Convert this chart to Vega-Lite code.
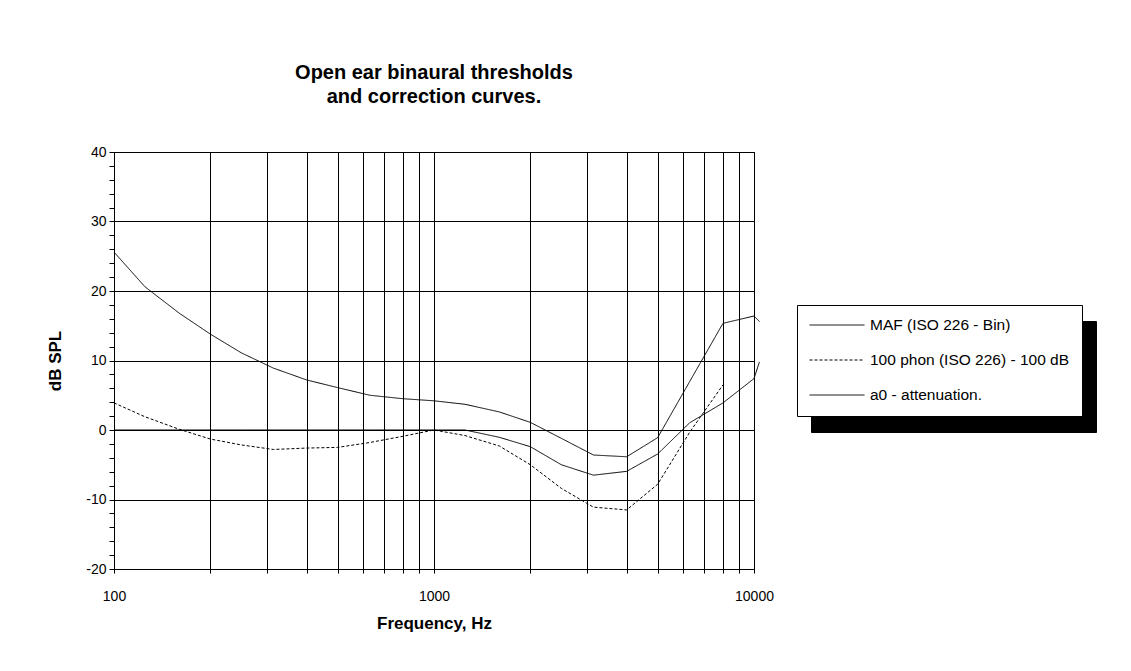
{
  "$schema": "https://vega.github.io/schema/vega-lite/v6.json",
  "width": 640,
  "height": 417,
  "autosize": {"type": "none"},
  "padding": {"left": 114, "top": 152, "right": 377, "bottom": 102},
  "background": "white",
  "title": {
    "text": ["Open ear binaural thresholds", "and correction curves."],
    "fontSize": 20,
    "font": "Liberation Sans",
    "fontWeight": "bold",
    "color": "black",
    "anchor": "middle",
    "frame": "group",
    "offset": 38,
    "lineHeight": 24
  },
  "data": {
    "values": [
      {"s": "MAF (ISO 226 - Bin)", "f": 100, "v": 25.6},
      {"s": "MAF (ISO 226 - Bin)", "f": 125, "v": 20.6},
      {"s": "MAF (ISO 226 - Bin)", "f": 160, "v": 16.8},
      {"s": "MAF (ISO 226 - Bin)", "f": 200, "v": 13.8},
      {"s": "MAF (ISO 226 - Bin)", "f": 250, "v": 11.1},
      {"s": "MAF (ISO 226 - Bin)", "f": 315, "v": 8.9},
      {"s": "MAF (ISO 226 - Bin)", "f": 400, "v": 7.2},
      {"s": "MAF (ISO 226 - Bin)", "f": 500, "v": 6.1},
      {"s": "MAF (ISO 226 - Bin)", "f": 630, "v": 5.0},
      {"s": "MAF (ISO 226 - Bin)", "f": 800, "v": 4.5},
      {"s": "MAF (ISO 226 - Bin)", "f": 1000, "v": 4.2},
      {"s": "MAF (ISO 226 - Bin)", "f": 1250, "v": 3.7},
      {"s": "MAF (ISO 226 - Bin)", "f": 1600, "v": 2.6},
      {"s": "MAF (ISO 226 - Bin)", "f": 2000, "v": 1.1},
      {"s": "MAF (ISO 226 - Bin)", "f": 2500, "v": -1.2},
      {"s": "MAF (ISO 226 - Bin)", "f": 3150, "v": -3.6},
      {"s": "MAF (ISO 226 - Bin)", "f": 4000, "v": -3.85},
      {"s": "MAF (ISO 226 - Bin)", "f": 5000, "v": -1.1},
      {"s": "MAF (ISO 226 - Bin)", "f": 6300, "v": 7.0},
      {"s": "MAF (ISO 226 - Bin)", "f": 8000, "v": 15.35},
      {"s": "MAF (ISO 226 - Bin)", "f": 10000, "v": 16.4},
      {"s": "MAF (ISO 226 - Bin)", "f": 10400, "v": 15.6},
      {"s": "100 phon (ISO 226) - 100 dB", "f": 100, "v": 3.9},
      {"s": "100 phon (ISO 226) - 100 dB", "f": 125, "v": 1.9},
      {"s": "100 phon (ISO 226) - 100 dB", "f": 160, "v": 0.1},
      {"s": "100 phon (ISO 226) - 100 dB", "f": 200, "v": -1.3},
      {"s": "100 phon (ISO 226) - 100 dB", "f": 250, "v": -2.15},
      {"s": "100 phon (ISO 226) - 100 dB", "f": 315, "v": -2.8},
      {"s": "100 phon (ISO 226) - 100 dB", "f": 400, "v": -2.6},
      {"s": "100 phon (ISO 226) - 100 dB", "f": 500, "v": -2.5},
      {"s": "100 phon (ISO 226) - 100 dB", "f": 630, "v": -1.8},
      {"s": "100 phon (ISO 226) - 100 dB", "f": 800, "v": -0.9},
      {"s": "100 phon (ISO 226) - 100 dB", "f": 1000, "v": 0},
      {"s": "100 phon (ISO 226) - 100 dB", "f": 1250, "v": -0.8},
      {"s": "100 phon (ISO 226) - 100 dB", "f": 1600, "v": -2.3},
      {"s": "100 phon (ISO 226) - 100 dB", "f": 2000, "v": -5.0},
      {"s": "100 phon (ISO 226) - 100 dB", "f": 2500, "v": -8.4},
      {"s": "100 phon (ISO 226) - 100 dB", "f": 3150, "v": -11.1},
      {"s": "100 phon (ISO 226) - 100 dB", "f": 4000, "v": -11.5},
      {"s": "100 phon (ISO 226) - 100 dB", "f": 5000, "v": -7.8},
      {"s": "100 phon (ISO 226) - 100 dB", "f": 6300, "v": -0.3},
      {"s": "100 phon (ISO 226) - 100 dB", "f": 8000, "v": 6.5},
      {"s": "a0 - attenuation.", "f": 100, "v": 0},
      {"s": "a0 - attenuation.", "f": 125, "v": 0},
      {"s": "a0 - attenuation.", "f": 160, "v": 0},
      {"s": "a0 - attenuation.", "f": 200, "v": 0},
      {"s": "a0 - attenuation.", "f": 250, "v": 0},
      {"s": "a0 - attenuation.", "f": 315, "v": 0},
      {"s": "a0 - attenuation.", "f": 400, "v": 0},
      {"s": "a0 - attenuation.", "f": 500, "v": 0},
      {"s": "a0 - attenuation.", "f": 630, "v": 0},
      {"s": "a0 - attenuation.", "f": 800, "v": 0},
      {"s": "a0 - attenuation.", "f": 1000, "v": 0},
      {"s": "a0 - attenuation.", "f": 1250, "v": 0},
      {"s": "a0 - attenuation.", "f": 1600, "v": -1.05},
      {"s": "a0 - attenuation.", "f": 2000, "v": -2.4},
      {"s": "a0 - attenuation.", "f": 2500, "v": -5.0},
      {"s": "a0 - attenuation.", "f": 3150, "v": -6.5},
      {"s": "a0 - attenuation.", "f": 4000, "v": -5.95},
      {"s": "a0 - attenuation.", "f": 5000, "v": -3.45},
      {"s": "a0 - attenuation.", "f": 6300, "v": 1.05},
      {"s": "a0 - attenuation.", "f": 8000, "v": 3.9},
      {"s": "a0 - attenuation.", "f": 10000, "v": 7.4},
      {"s": "a0 - attenuation.", "f": 10400, "v": 9.8}
    ]
  },
  "mark": {"type": "line", "strokeWidth": 1, "color": "black", "clip": false},
  "encoding": {
    "x": {
      "field": "f",
      "type": "quantitative",
      "scale": {"type": "log", "domain": [100, 10000], "nice": false},
      "axis": {
        "values": [100, 200, 300, 400, 500, 600, 700, 800, 900, 1000, 2000, 3000, 4000, 5000, 6000, 7000, 8000, 9000, 10000],
        "labelExpr": "datum.value == 100 || datum.value == 1000 || datum.value == 10000 ? '' + datum.value : ''",
        "grid": true,
        "gridColor": "black",
        "gridOpacity": 1,
        "gridWidth": 1,
        "tickSize": 4,
        "tickColor": "black",
        "domainColor": "black",
        "labelFont": "Liberation Sans",
        "labelFontSize": 14,
        "labelColor": "black",
        "labelPadding": 16,
        "labelFlush": false,
        "labelOverlap": false,
        "title": "Frequency, Hz",
        "titleFont": "Liberation Sans",
        "titleFontSize": 17,
        "titleFontWeight": "bold",
        "titleColor": "black",
        "titlePadding": 12
      }
    },
    "y": {
      "field": "v",
      "type": "quantitative",
      "scale": {"domain": [-20, 40], "nice": false, "zero": false},
      "axis": {
        "values": [-20, -18, -16, -14, -12, -10, -8, -6, -4, -2, 0, 2, 4, 6, 8, 10, 12, 14, 16, 18, 20, 22, 24, 26, 28, 30, 32, 34, 36, 38, 40],
        "labelExpr": "datum.value % 10 === 0 ? '' + datum.value : ''",
        "grid": true,
        "gridColor": "black",
        "gridWidth": 1,
        "gridOpacity": {"condition": {"test": "datum.value % 10 === 0", "value": 1}, "value": 0},
        "tickSize": 5,
        "tickColor": "black",
        "domainColor": "black",
        "labelFont": "Liberation Sans",
        "labelFontSize": 14,
        "labelColor": "black",
        "labelPadding": 3,
        "labelFlush": false,
        "labelOverlap": false,
        "title": "dB SPL",
        "titleFont": "Liberation Sans",
        "titleFontSize": 17,
        "titleFontWeight": "bold",
        "titleColor": "black",
        "titlePadding": 21
      }
    },
    "stroke": {
      "field": "s",
      "type": "nominal",
      "scale": {
        "domain": ["MAF (ISO 226 - Bin)", "100 phon (ISO 226) - 100 dB", "a0 - attenuation."],
        "range": ["black", "black", "black"]
      },
      "legend": {
        "orient": "none", "legendX": 683, "legendY": 153, "title": null,
        "symbolType": "stroke", "symbolSize": 3025, "symbolStrokeWidth": 1,
        "labelFont": "Liberation Sans", "labelFontSize": 15.5, "labelColor": "black", "labelOffset": 5, "labelLimit": 400,
        "padding": 12, "clipHeight": 16, "rowPadding": 18,
        "strokeColor": "black", "fillColor": "white", "zindex": 2
      }
    },
    "strokeDash": {
      "field": "s",
      "type": "nominal",
      "scale": {
        "domain": ["MAF (ISO 226 - Bin)", "100 phon (ISO 226) - 100 dB", "a0 - attenuation."],
        "range": [[1, 0], [3, 2], [1, 0]]
      },
      "legend": {
        "orient": "none", "legendX": 683, "legendY": 153, "title": null,
        "symbolType": "stroke", "symbolSize": 3025, "symbolStrokeWidth": 1,
        "labelFont": "Liberation Sans", "labelFontSize": 15.5, "labelColor": "black", "labelOffset": 5, "labelLimit": 400,
        "padding": 12, "clipHeight": 16, "rowPadding": 18,
        "strokeColor": "black", "fillColor": "white", "zindex": 2
      }
    },
    "opacity": {
      "field": "s",
      "type": "ordinal",
      "scale": {"range": [1, 1]},
      "legend": {
        "orient": "none", "legendX": 697, "legendY": 169, "title": null,
        "symbolType": "stroke", "symbolSize": 3025, "symbolStrokeWidth": 1, "symbolOpacity": 1,
        "labelFont": "Liberation Sans", "labelFontSize": 15.5, "labelColor": "black", "labelOffset": 5, "labelLimit": 400,
        "padding": 12, "clipHeight": 16, "rowPadding": 18,
        "strokeColor": "black", "fillColor": "black", "zindex": 1
      }
    }
  },
  "config": {
    "view": {"stroke": "black", "strokeWidth": 1},
    "font": "Liberation Sans"
  }
}
